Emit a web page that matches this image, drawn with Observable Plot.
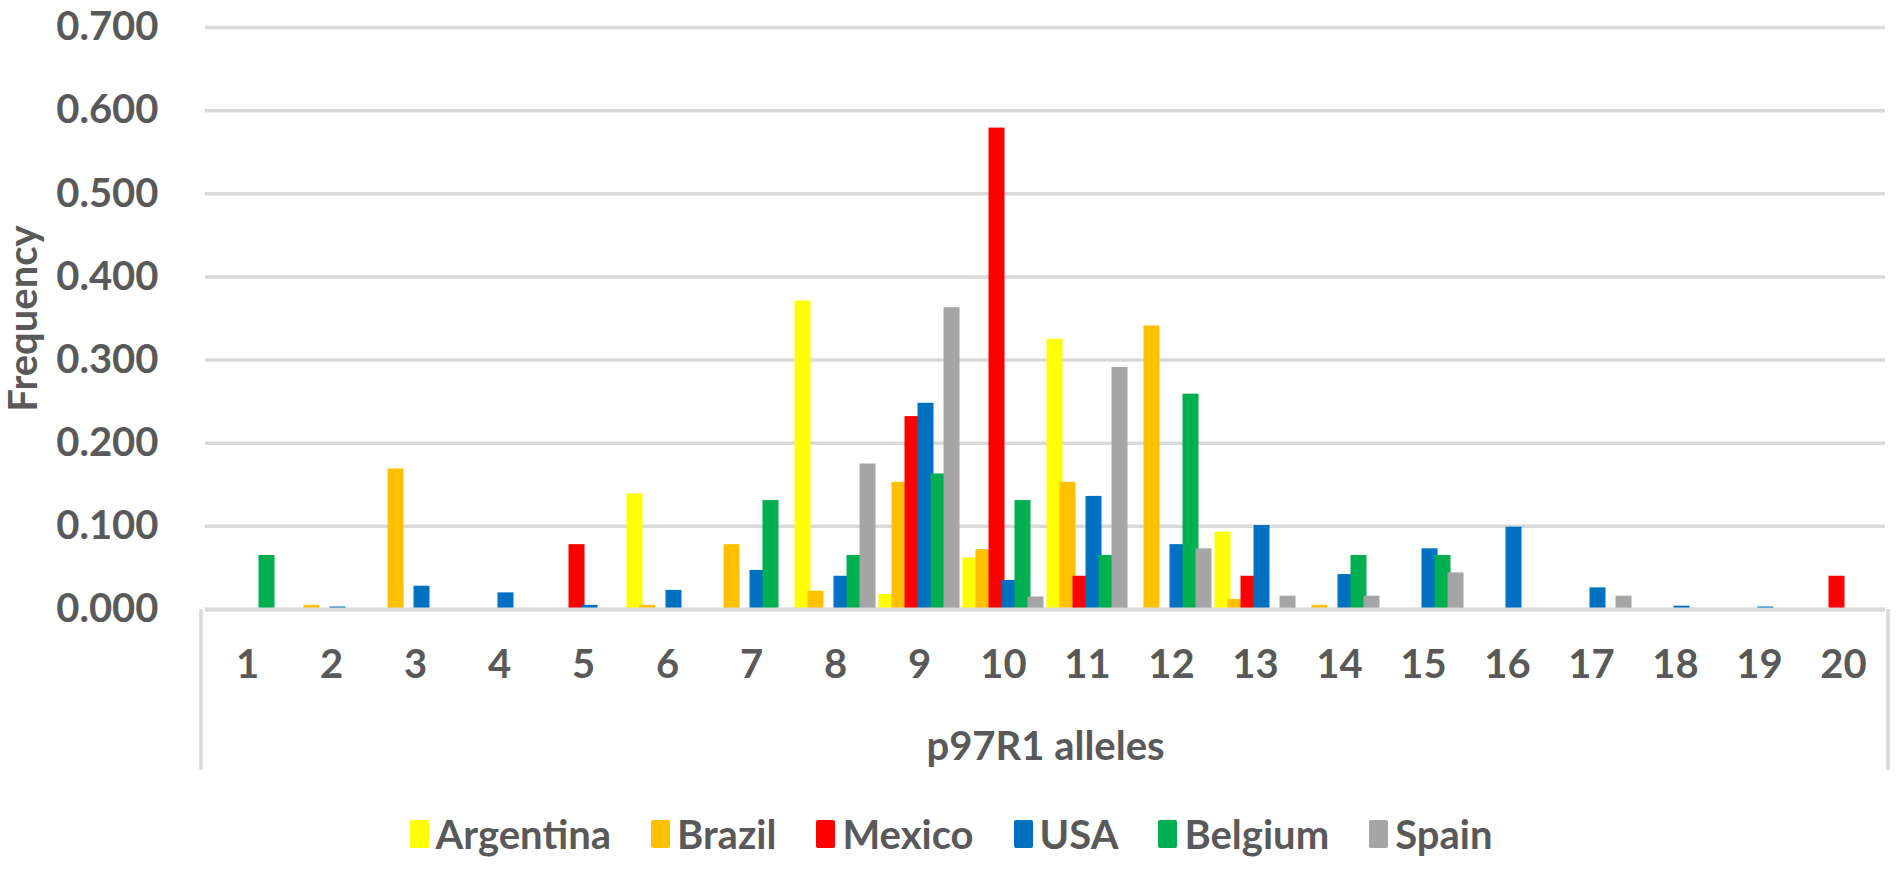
<!DOCTYPE html>
<html>
<head>
<meta charset="utf-8">
<script src="https://cdn.jsdelivr.net/npm/d3@7"></script>
<script src="https://cdn.jsdelivr.net/npm/@observablehq/plot@0.6"></script>
<style>
  html, body { margin: 0; padding: 0; background: #fff; }
  #chart { width: 1902px; }
  .legend { display: flex; justify-content: center; align-items: center; height: 74px;
    font-family: Lato, sans-serif; font-weight: 700; font-size: 40px; color: #595959; }
  .legend .item { display: flex; align-items: center; margin: 0 20px; }
  .legend .sw { width: 19px; height: 28px; margin-right: 7px; border-radius: 2px; }
</style>
</head>
<body>
<div id="chart"></div>
<script>
const alleles = ["1","2","3","4","5","6","7","8","9","10","11","12","13","14","15","16","17","18","19","20"];
const countries = ["Argentina", "Brazil", "Mexico", "USA", "Belgium", "Spain"];
const colors = ["#FFFF00", "#FFC000", "#FF0000", "#0070C0", "#00B050", "#A5A5A5"];
const yTicks = [0, 0.1, 0.2, 0.3, 0.4, 0.5, 0.6, 0.7];

const argentina = [0, 0, 0, 0, 0, 0.139, 0, 0.371, 0.018, 0.062, 0.325, 0, 0.093, 0, 0, 0, 0, 0, 0, 0];
const brazil    = [0, 0.005, 0.169, 0, 0, 0.005, 0.078, 0.022, 0.153, 0.072, 0.153, 0.341, 0.012, 0.005, 0, 0, 0, 0, 0, 0];
const mexico    = [0, 0, 0, 0, 0.078, 0, 0, 0, 0.232, 0.579, 0.040, 0, 0.040, 0, 0, 0, 0, 0, 0, 0.040];
const usa       = [0, 0.003, 0.028, 0.020, 0.005, 0.023, 0.047, 0.040, 0.248, 0.035, 0.136, 0.078, 0.101, 0.042, 0.073, 0.099, 0.026, 0.004, 0.003, 0];
const belgium   = [0.065, 0, 0, 0, 0, 0, 0.131, 0.065, 0.163, 0.131, 0.065, 0.259, 0, 0.065, 0.065, 0, 0, 0, 0, 0];
const spain     = [0, 0, 0, 0, 0, 0, 0, 0.175, 0.363, 0.015, 0.291, 0.073, 0.016, 0.016, 0.044, 0, 0.016, 0, 0, 0];

const series = [argentina, brazil, mexico, usa, belgium, spain];
const data = alleles.flatMap((a, i) => countries.map((c, j) => ({allele: a, country: c, value: series[j][i]})));

const W = 1902, H = 797, mL = 201, mR = 14, mT = 27, mB = 188;

const chart = Plot.plot({
  width: W, height: H,
  marginTop: mT, marginBottom: mB, marginLeft: mL, marginRight: mR,
  style: {fontFamily: "Lato, sans-serif", fontWeight: 700, fontSize: "40px", color: "#595959", background: "#fff", overflow: "visible"},
  fx: {domain: alleles, padding: 0},
  x: {domain: countries, paddingInner: 0, paddingOuter: 0.05, axis: null},
  y: {domain: [0, 0.7]},
  color: {domain: countries, range: colors},
  marks: [
    Plot.gridY(yTicks, {stroke: "#d9d9d9", strokeOpacity: 1, strokeWidth: 3.5}),
    Plot.barY(data, {fx: "allele", x: "country", y: "value", fill: "country", insetLeft: -1.5, insetRight: -1.5}),
    Plot.ruleY([0], {stroke: "#d9d9d9", strokeWidth: 4}),
    Plot.axisY(yTicks, {tickSize: 0, tickPadding: 47, tickFormat: d3.format(".3f"),
      label: "Frequency", labelAnchor: "center", labelOffset: 197, labelArrow: "none"}),
    Plot.axisFx({anchor: "bottom", tickSize: 0, tickPadding: 40,
      label: "p97R1 alleles", labelAnchor: "center", labelOffset: 150, labelArrow: "none"})
  ]
});
document.getElementById("chart").appendChild(chart);

// category axis box side lines
const svg = d3.select(chart);
const yBase = H - mB;
[mL, W - mR].forEach(x => {
  svg.append("line").attr("x1", x).attr("x2", x).attr("y1", yBase).attr("y2", 770)
    .attr("stroke", "#d9d9d9").attr("stroke-width", 3.5);
});

// legend
const legend = d3.select("body").append("div").attr("class", "legend");
countries.forEach((c, i) => {
  const it = legend.append("div").attr("class", "item");
  it.append("div").attr("class", "sw").style("background", colors[i]);
  it.append("span").text(c);
});
</script>
</body>
</html>
